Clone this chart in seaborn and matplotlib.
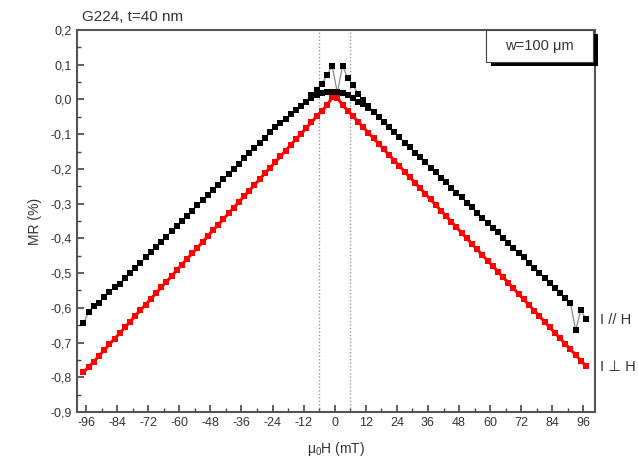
import numpy as np
import pandas as pd
import matplotlib
matplotlib.use("Agg")
import matplotlib.pyplot as plt
import seaborn as sns
from matplotlib.patches import Rectangle
from matplotlib.ticker import MultipleLocator, FuncFormatter

# field grid (mT) shared by the full sweeps
field = np.arange(-97, 98, 2)

# I // H, sweep -97 -> +97 (peak at -1 mT)
mr_par_up = [
    -0.645, -0.612, -0.595, -0.585, -0.570, -0.555, -0.540, -0.530, -0.515, -0.500,
    -0.485, -0.470, -0.455, -0.440, -0.425, -0.410, -0.395, -0.380, -0.365, -0.350,
    -0.335, -0.320, -0.305, -0.290, -0.275, -0.260, -0.245, -0.230, -0.215, -0.200,
    -0.185, -0.170, -0.155, -0.140, -0.125, -0.110, -0.095, -0.080, -0.067, -0.055,
    -0.043, -0.031, -0.020, -0.008, 0.012, 0.028, 0.045, 0.069, 0.097,
    0.020, 0.018, 0.012, 0.003, -0.006, -0.014, -0.025, -0.037, -0.051, -0.066,
    -0.080, -0.095, -0.109, -0.124, -0.138, -0.153, -0.167, -0.181, -0.196, -0.210,
    -0.225, -0.239, -0.254, -0.268, -0.282, -0.297, -0.311, -0.326, -0.340, -0.355,
    -0.369, -0.383, -0.398, -0.412, -0.427, -0.441, -0.455, -0.470, -0.484, -0.499,
    -0.513, -0.528, -0.542, -0.557, -0.571, -0.585, -0.665, -0.607, -0.632,
]

# I // H, sweep back near zero field (peak at +3 mT)
field_par_down = [15, 13, 11, 9, 7, 5, 3, 1, -1, -3, -5, -7, -9, -11, -13]
mr_par_down = [-0.035, -0.020, -0.003, 0.017, 0.041, 0.062, 0.097, 0.020,
               0.020, 0.020, 0.018, 0.012, 0.004, -0.008, -0.020]

# I perp H
mr_perp = [
    -0.785, -0.771, -0.755, -0.738, -0.722, -0.705, -0.689, -0.673, -0.656, -0.640,
    -0.623, -0.607, -0.591, -0.574, -0.558, -0.541, -0.525, -0.509, -0.492, -0.476,
    -0.459, -0.443, -0.427, -0.410, -0.394, -0.377, -0.361, -0.345, -0.328, -0.312,
    -0.295, -0.279, -0.263, -0.246, -0.230, -0.213, -0.197, -0.181, -0.164, -0.148,
    -0.131, -0.115, -0.099, -0.082, -0.066, -0.049, -0.033, -0.017, 0.006,
    0.005, -0.016, -0.032, -0.048, -0.064, -0.080, -0.096, -0.112, -0.128, -0.144,
    -0.160, -0.176, -0.192, -0.208, -0.224, -0.240, -0.256, -0.272, -0.288, -0.304,
    -0.320, -0.336, -0.352, -0.368, -0.384, -0.400, -0.416, -0.432, -0.448, -0.464,
    -0.480, -0.496, -0.512, -0.528, -0.544, -0.560, -0.576, -0.592, -0.608, -0.624,
    -0.640, -0.656, -0.672, -0.688, -0.704, -0.720, -0.736, -0.752, -0.768,
]

switch_fields = [-6, 6]

sns.set_style("ticks")
plt.rcParams["font.family"] = ["Liberation Sans", "DejaVu Sans"]
plt.rcParams["axes.unicode_minus"] = False
plt.rcParams["mathtext.fontset"] = "custom"
plt.rcParams["mathtext.rm"] = "Liberation Sans"
plt.rcParams["mathtext.it"] = "Liberation Sans"

txt = "#333333"
fig = plt.figure(figsize=(6.38, 4.70), dpi=100)
ax = fig.add_axes([0.1207, 0.1234, 0.812, 0.8128])

for xv in switch_fields:
    ax.axvline(xv, color="#999999", lw=1, ls=(0, (1, 1.5)), zorder=1)

df_perp = pd.DataFrame({"H": field, "MR": mr_perp})
df_up = pd.DataFrame({"H": field, "MR": mr_par_up})
df_down = pd.DataFrame({"H": field_par_down, "MR": mr_par_down})

sns.lineplot(data=df_perp, x="H", y="MR", sort=False, estimator=None, ax=ax,
             color="red", lw=2.2, marker="s", markersize=4.2, markeredgewidth=0,
             zorder=3)
for d in (df_up, df_down):
    sns.lineplot(data=d, x="H", y="MR", sort=False, estimator=None, ax=ax,
                 color="#8a8a8a", lw=0.9, zorder=4)
    sns.lineplot(data=d, x="H", y="MR", sort=False, estimator=None, ax=ax,
                 color="black", lw=0, marker="s", markersize=4.5,
                 markeredgewidth=0, zorder=5)

ax.set_xlim(-99.5, 100.5)
ax.set_ylim(-0.9, 0.2)
ax.xaxis.set_major_locator(MultipleLocator(12))
ax.xaxis.set_minor_locator(MultipleLocator(6))
ax.yaxis.set_major_locator(MultipleLocator(0.1))
ax.yaxis.set_minor_locator(MultipleLocator(0.05))
ax.set_xticks(np.arange(-96, 97, 12))
ax.yaxis.set_major_formatter(FuncFormatter(lambda v, p: f"{v:.1f}".replace(".", ",").replace("-0,0", "0,0")))
ax.tick_params(which="major", direction="in", length=5, width=1.2, color="#444444",
               labelsize=9, labelcolor=txt, top=False, right=False)
ax.tick_params(which="minor", direction="in", length=3, width=1.0, color="#444444",
               top=False, right=False)
for s in ax.spines.values():
    s.set_color("#555555")
    s.set_linewidth(1.5)
    s.set_visible(True)

ax.set_xlabel(r"$\mathrm{\mu_0}$H (mT)", fontsize=10, color=txt, labelpad=8)
ax.set_ylabel("MR (%)", fontsize=10, color=txt, labelpad=6)

fig.text(0.128, 0.955, "G224, t=40 nm", fontsize=11, color=txt)

# label box with shadow
ax.add_patch(Rectangle((0.800, 0.906), 0.205, 0.084, transform=ax.transAxes,
                       facecolor="black", edgecolor="none", clip_on=False, zorder=6))
ax.add_patch(Rectangle((0.790, 0.916), 0.206, 0.084, transform=ax.transAxes,
                       facecolor="white", edgecolor="#444444", lw=0.8,
                       clip_on=False, zorder=7))
ax.text(0.893, 0.958, "w=100 μm", transform=ax.transAxes, fontsize=10.5,
        color=txt, ha="center", va="center", zorder=8)

ax.text(1.01, -0.635, "I // H", transform=ax.get_yaxis_transform(),
        fontsize=10.5, color=txt, va="center", ha="left")
ax.text(1.01, -0.77, "I \u22a5 H", transform=ax.get_yaxis_transform(),
        fontsize=10.5, color=txt, va="center", ha="left")

fig.savefig("out.png", dpi=100)
